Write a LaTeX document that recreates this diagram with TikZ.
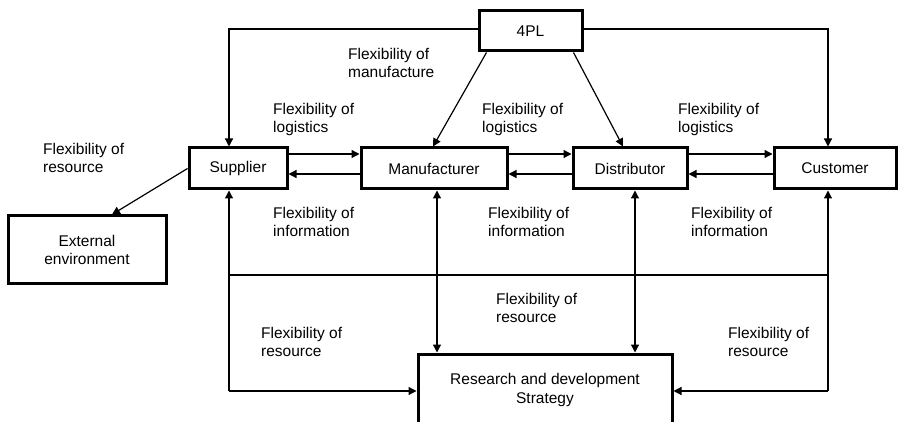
\documentclass[tikz,border=0pt]{standalone}
\usepackage{fontspec}
\setmainfont{Liberation Sans}
\usetikzlibrary{arrows.meta}
\tikzset{
  box/.style={draw, line width=3pt, align=center, inner sep=0pt, font=\fontsize{15.5}{18.5}\selectfont},
  link/.style={draw, line width=1.2pt, -{Triangle[length=8pt,width=8pt]}},
  twoway/.style={link, {Triangle[length=8pt,width=8pt]}-{Triangle[length=8pt,width=8pt]}},
  plain/.style={draw, line width=1.2pt},
  lab/.style={anchor=north west, align=left, inner sep=0pt, font=\fontsize{15.5}{18.5}\selectfont},
}

\begin{document}
\begin{tikzpicture}[x=1pt, y=-1pt]
  \clip (0,0) rectangle (900,422);

  \node[box, minimum width=103pt, minimum height=40pt] (fpl) at (530.5,31) {4PL};
  \node[box, minimum width=98pt, minimum height=41pt] (sup) at (238,168.5) {Supplier};
  \node[box, minimum width=146pt, minimum height=41pt] (man) at (434,168.5) {Manufacturer};
  \node[box, minimum width=114pt, minimum height=41pt] (dis) at (630,168.5) {Distributor};
  \node[box, minimum width=122pt, minimum height=41pt] (cus) at (835,168.5) {Customer};
  \node[box, minimum width=158pt, minimum height=68pt] (ext) at (87,250) {External\\environment};
  \node[box, minimum width=254pt, minimum height=72pt] (rd) at (545,390) {Research and development\\Strategy};

  \coordinate (bw) at (229,275);
  \coordinate (be) at (828,275);
  \coordinate (sw) at (229,391);
  \coordinate (se) at (828,391);

  \draw[link] (fpl.west |- 0,29) -| ([xshift=-9pt]sup.north);
  \draw[link] (fpl.east |- 0,29) -| ([xshift=-7pt]cus.north);
  \draw[link] ([xshift=9pt]fpl.south west) -- ([xshift=-1pt]man.north);
  \draw[link] ([xshift=-10pt]fpl.south east) -- ([xshift=-7pt]dis.north);

  \draw[link] ([yshift=14.5pt]sup.east) -- ([yshift=14.5pt]man.west);
  \draw[link] ([yshift=-5.5pt]man.west) -- ([yshift=-5.5pt]sup.east);
  \draw[link] ([yshift=14.5pt]man.east) -- ([yshift=14.5pt]dis.west);
  \draw[link] ([yshift=-5.5pt]dis.west) -- ([yshift=-5.5pt]man.east);
  \draw[link] ([yshift=14.5pt]dis.east) -- ([yshift=14.5pt]cus.west);
  \draw[link] ([yshift=-5.5pt]cus.west) -- ([yshift=-5.5pt]dis.east);

  \draw[link] (sup.west) -- ([xshift=25pt]ext.north);

  \draw[plain] (bw) -- (be);
  \draw[link] (sw) -- ([xshift=-9pt]sup.south);
  \draw[link] (sw) -- (rd.west |- sw);
  \draw[link] (se) -- ([xshift=-7pt]cus.south);
  \draw[link] (se) -- (rd.east |- se);
  \draw[twoway] ([xshift=3pt]man.south) -- ([xshift=3pt]man.south |- rd.north);
  \draw[twoway] ([xshift=5pt]dis.south) -- ([xshift=5pt]dis.south |- rd.north);

  \node[lab] (lman) at (348,48) {Flexibility of\\manufacture};
  \node[lab] (llog1) at (273,103) {Flexibility of\\logistics};
  \node[lab] (llog2) at (482,103) {Flexibility of\\logistics};
  \node[lab] (llog3) at (678,103) {Flexibility of\\logistics};
  \node[lab] (lres0) at (43,143) {Flexibility of\\resource};
  \node[lab] (linf1) at (273,207) {Flexibility of\\information};
  \node[lab] (linf2) at (488,207) {Flexibility of\\information};
  \node[lab] (linf3) at (691,207) {Flexibility of\\information};
  \node[lab] (lres1) at (496,293) {Flexibility of\\resource};
  \node[lab] (lres2) at (261,327) {Flexibility of\\resource};
  \node[lab] (lres3) at (728,327) {Flexibility of\\resource};
\end{tikzpicture}
\end{document}
